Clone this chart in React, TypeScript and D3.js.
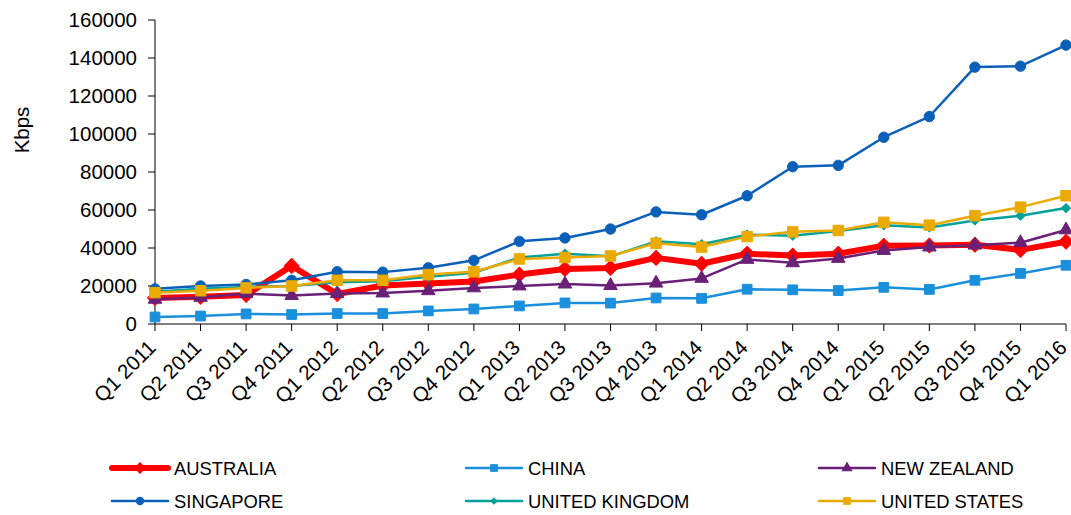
import React from "react";
import * as d3 from "d3";

const categories = [
  "Q1 2011", "Q2 2011", "Q3 2011", "Q4 2011",
  "Q1 2012", "Q2 2012", "Q3 2012", "Q4 2012",
  "Q1 2013", "Q2 2013", "Q3 2013", "Q4 2013",
  "Q1 2014", "Q2 2014", "Q3 2014", "Q4 2014",
  "Q1 2015", "Q2 2015", "Q3 2015", "Q4 2015",
  "Q1 2016",
];

const australia = [13700, 14300, 15300, 30600, 15800, 20300, 21300, 22400, 26000, 29000, 29500, 34800, 31700, 37000, 36000, 37000, 41200, 41300, 41700, 39000, 43300];
const china = [3700, 4200, 5300, 5000, 5500, 5500, 6900, 7900, 9500, 11100, 11000, 13700, 13500, 18300, 18000, 17600, 19300, 18200, 23000, 26600, 30900];
const newZealand = [13000, 14000, 16000, 15000, 16000, 16300, 17500, 19000, 20000, 21000, 20200, 21500, 24000, 34000, 32200, 34500, 38700, 40500, 41500, 42800, 49500];
const singapore = [18500, 20000, 20800, 23000, 27500, 27300, 29600, 33500, 43500, 45300, 50000, 59000, 57500, 67500, 82800, 83500, 98300, 109200, 135200, 135700, 146800];
const unitedKingdom = [17000, 18500, 19500, 20000, 22000, 22500, 24800, 27000, 35000, 37000, 35600, 43500, 42000, 47000, 46500, 49000, 52000, 50800, 54500, 57000, 61000];
const unitedStates = [16500, 17500, 19000, 20000, 23000, 23000, 26000, 27500, 34200, 35000, 35800, 42500, 40500, 46000, 48500, 49200, 53500, 52000, 57000, 61500, 67500];

const yTicks = [0, 20000, 40000, 60000, 80000, 100000, 120000, 140000, 160000];

type Series = { name: string; values: number[]; color: string; width: number; symbol: d3.SymbolType; size: number; rotate: number; legendSize: number };

const series: Series[] = [
  { name: "AUSTRALIA", values: australia, color: "#ff0000", width: 6, symbol: d3.symbolSquare, size: 110, rotate: 45, legendSize: 70 },
  { name: "CHINA", values: china, color: "#1a8fdc", width: 2.5, symbol: d3.symbolSquare, size: 95, rotate: 0, legendSize: 60 },
  { name: "NEW ZEALAND", values: newZealand, color: "#6b2077", width: 2.5, symbol: d3.symbolTriangle, size: 80, rotate: 0, legendSize: 55 },
  { name: "SINGAPORE", values: singapore, color: "#0a60b8", width: 2.5, symbol: d3.symbolCircle, size: 85, rotate: 0, legendSize: 55 },
  { name: "UNITED KINGDOM", values: unitedKingdom, color: "#00a19b", width: 2.5, symbol: d3.symbolSquare, size: 40, rotate: 45, legendSize: 30 },
  { name: "UNITED STATES", values: unitedStates, color: "#eaaa00", width: 2.5, symbol: d3.symbolSquare, size: 110, rotate: 0, legendSize: 60 },
];

export default function App() {
  const W = 1071, H = 515;
  const left = 155, right = 1066, top = 20, bottom = 324;
  const x = d3.scalePoint<string>().domain(categories).range([left, right]);
  const y = d3.scaleLinear().domain([0, 160000]).range([bottom, top]);
  const line = d3.line<number>().x((_, i) => x(categories[i])!).y((v) => y(v));
  const font = "'Liberation Sans', Arial, sans-serif";

  const legendCols = [112, 466, 819];
  const legendRows = [468, 501];

  return (
    <svg width={W} height={H} style={{ position: "absolute", left: 0, top: 0, fontFamily: font }}>
      <rect width={W} height={H} fill="#fff" />
      {/* y axis */}
      <line x1={left} x2={left} y1={top} y2={bottom} stroke="#000" strokeWidth={1} />
      {yTicks.map((t) => (
        <g key={t}>
          <line x1={left - 7} x2={left} y1={y(t)} y2={y(t)} stroke="#000" />
          <text x={137} y={y(t)} dy="0.36em" textAnchor="end" fontSize={20.5}>{t}</text>
        </g>
      ))}
      <text transform={`translate(29,130) rotate(-90)`} textAnchor="middle" fontSize={20.5}>Kbps</text>
      {/* x axis */}
      <line x1={left} x2={right} y1={bottom} y2={bottom} stroke="#000" />
      {categories.map((c) => (
        <g key={c}>
          <line x1={x(c)!} x2={x(c)!} y1={bottom} y2={bottom + 7} stroke="#000" />
          <text transform={`translate(${x(c)! + 2},${bottom + 25}) rotate(-45)`} textAnchor="end" fontSize={20.5}>{c}</text>
        </g>
      ))}
      {/* series */}
      {series.map((s) => (
        <g key={s.name}>
          <path d={line(s.values)!} fill="none" stroke={s.color} strokeWidth={s.width} strokeLinejoin="round" />
          {s.values.map((v, i) => (
            <path key={i} d={d3.symbol().type(s.symbol).size(s.size)()!} transform={`translate(${x(categories[i])},${y(v)}) rotate(${s.rotate})`} fill={s.color} stroke={s.color} strokeWidth={1} strokeLinejoin="round" />
          ))}
        </g>
      ))}
      {/* legend */}
      {series.map((s, i) => {
        const lx = legendCols[i % 3];
        const ly = legendRows[Math.floor(i / 3)];
        return (
          <g key={s.name}>
            <line x1={lx} x2={lx + 56} y1={ly} y2={ly} stroke={s.color} strokeWidth={s.width} strokeLinecap="round" />
            <path d={d3.symbol().type(s.symbol).size(s.legendSize)()!} transform={`translate(${lx + 28},${ly}) rotate(${s.rotate})`} fill={s.color} />
            <text x={lx + 62} y={ly} dy="0.36em" fontSize={18.4}>{s.name}</text>
          </g>
        );
      })}
    </svg>
  );
}
